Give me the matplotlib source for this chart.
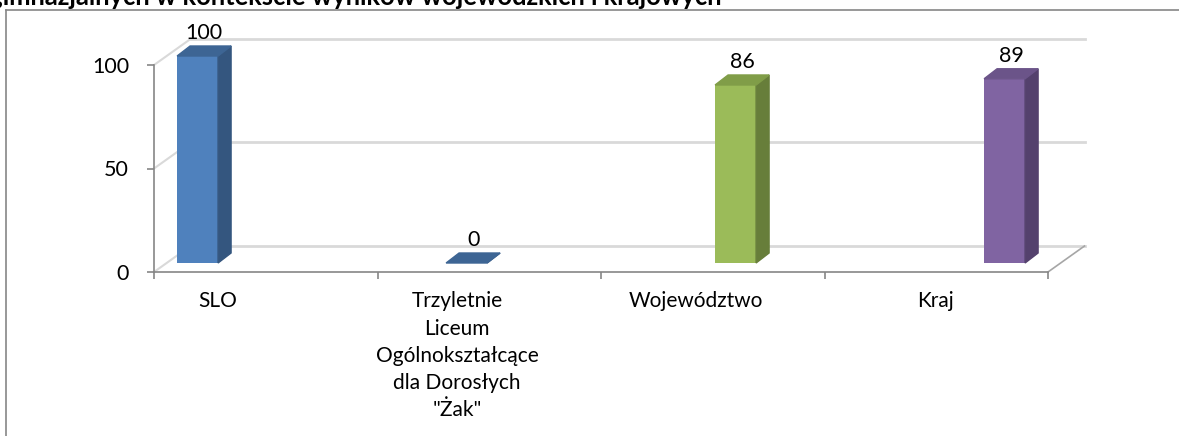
import numpy as np
import matplotlib
matplotlib.use("Agg")
from matplotlib import pyplot as plt
from matplotlib.patches import Polygon
from matplotlib.lines import Line2D

categories = ["SLO", "Trzyletnie\nLiceum\nOgólnokształcące\ndla Dorosłych\n\"Żak\"", "Województwo", "Kraj"]
values = [100, 0, 86, 89]
yticks = [0, 50, 100]
title = "Zdawalność absolwentów szkół ponadgimnazjalnych w kontekście wyników wojewódzkich i krajowych"

front_c = ["#4F81BD", "#4F81BD", "#9BBB59", "#8064A2"]
side_c = ["#34567F", "#34567F", "#677E3A", "#54416D"]
top_c = ["#3D6594", "#3D6594", "#809D48", "#6B5489"]

plt.rcParams['font.family'] = ['Lato', 'DejaVu Sans']

W, H = 1179, 436
fig = plt.figure(figsize=(W / 100, H / 100), dpi=100)

# chart frame
fig.add_artist(Line2D([6 / W, 1], [1 - 10 / H, 1 - 10 / H], color="#868686", lw=1.2))
fig.add_artist(Line2D([6 / W, 6 / W], [0, 1 - 10 / H], color="#868686", lw=1.2))
fig.text(722 / W, 1 - 5 / H, title, ha="right", va="baseline", fontsize=18.4, fontweight="bold")

# front plane axes
ax = fig.add_axes([154 / W, (H - 272) / H, 894 / W, 207 / H])
ax.set_xlim(-0.5, 3.5)
ax.set_ylim(0, 100)
pxx = 894 / 4.0
pxy = 207 / 100.0

# depth of the box and of the bars, in data units
ddx, ddy = 36.5 / pxx, 26 / pxy
bdx, bdy = 13 / pxx, 10 / pxy
base = 9 / pxy
bw = 41 / pxx

# back wall gridlines + side wall diagonals
for v in yticks:
    col = "#D9D9D9"
    ax.plot([-0.5 + ddx, 3.5 + ddx], [v + ddy, v + ddy], color=col, lw=2, zorder=1, clip_on=False)
    ax.plot([-0.5, -0.5 + ddx], [v, v + ddy], color=col, lw=1.5, zorder=1, clip_on=False)
ax.plot([3.5, 3.5 + ddx], [0, ddy], color="#A6A6A6", lw=1.2, zorder=1, clip_on=False)

# bars
idx = np.arange(len(values))
xs = -0.305 + 1.2036 * idx
for x, v, fc, sc, tc in zip(xs, values, front_c, side_c, top_c):
    L, R = x - bw / 2, x + bw / 2
    b, t = base, base + v
    ax.bar(x, v, width=bw, bottom=b, color=fc, zorder=3, clip_on=False)
    ax.add_patch(Polygon([(R, b), (R + bdx, b + bdy), (R + bdx, t + bdy), (R, t)],
                         closed=True, color=sc, zorder=3, clip_on=False))
    ax.add_patch(Polygon([(L, t), (L + bdx, t + bdy), (R + bdx, t + bdy), (R, t)],
                         closed=True, color=tc, zorder=4, clip_on=False))
    ax.annotate(str(v), xy=(x + bdx / 2, t + bdy), xytext=(0, 5), textcoords="offset points",
                ha="center", va="baseline", fontsize=15.5, annotation_clip=False)

# axes styling
for s in ["top", "right"]:
    ax.spines[s].set_visible(False)
for s in ["left", "bottom"]:
    ax.spines[s].set_color("#868686")
    ax.spines[s].set_linewidth(1.2)
ax.set_yticks(yticks)
ax.set_yticklabels([str(v) for v in yticks], fontsize=15.5)
ax.tick_params(axis="y", length=5, width=1.2, color="#868686", pad=13)
ax.set_xticks([-0.5, 0.5, 1.5, 2.5, 3.5])
ax.set_xticklabels([])
ax.tick_params(axis="x", length=5, width=1.2, color="#868686")
ax.set_facecolor("none")

lx = -0.2136 + 1.0694 * idx
for x, lbl in zip(lx, categories):
    ax.annotate(lbl, xy=(x, 0), xytext=(0, -14), textcoords="offset points",
                ha="center", va="top", fontsize=15, linespacing=1.45, annotation_clip=False)

fig.savefig("out.png", dpi=100)
